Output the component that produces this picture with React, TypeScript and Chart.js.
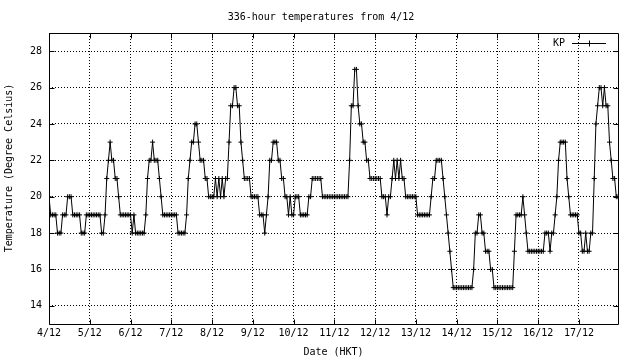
import { useEffect, useRef } from "react";
import { Chart, registerables } from "chart.js";

Chart.register(...registerables);

const TITLE = "336-hour temperatures from 4/12";
const X_TITLE = "Date (HKT)";
const Y_TITLE = "Temperature (Degree Celsius)";
const SERIES_LABEL = "KP";

const DAY_LABELS = ["4/12", "5/12", "6/12", "7/12", "8/12", "9/12", "10/12", "11/12", "12/12", "13/12", "14/12", "15/12", "16/12", "17/12"];
const Y_TICKS = [14, 16, 18, 20, 22, 24, 26, 28];
const Y_MIN = 13;
const Y_MAX = 29;
const HOURS_PER_DAY = 24;

// hourly temperatures, one array per day
const day04 = [20, 19, 19, 19, 19, 18, 18, 18, 19, 19, 19, 20, 20, 20, 19, 19, 19, 19, 19, 18, 18, 18, 19, 19];
const day05 = [19, 19, 19, 19, 19, 19, 19, 18, 18, 19, 21, 22, 23, 22, 22, 21, 21, 20, 19, 19, 19, 19, 19, 19];
const day06 = [19, 18, 19, 18, 18, 18, 18, 18, 18, 19, 21, 22, 22, 23, 22, 22, 22, 21, 20, 19, 19, 19, 19, 19];
const day07 = [19, 19, 19, 19, 18, 18, 18, 18, 18, 19, 21, 22, 23, 23, 24, 24, 23, 22, 22, 22, 21, 21, 20, 20];
const day08 = [20, 20, 21, 20, 21, 20, 21, 20, 21, 21, 23, 25, 25, 26, 26, 25, 25, 23, 22, 21, 21, 21, 21, 20];
const day09 = [20, 20, 20, 20, 19, 19, 19, 18, 19, 20, 22, 22, 23, 23, 23, 22, 22, 21, 21, 20, 20, 19, 20, 19];
const day10 = [19, 20, 20, 20, 19, 19, 19, 19, 19, 20, 20, 21, 21, 21, 21, 21, 21, 20, 20, 20, 20, 20, 20, 20];
const day11 = [20, 20, 20, 20, 20, 20, 20, 20, 20, 22, 25, 25, 27, 27, 25, 24, 24, 23, 23, 22, 22, 21, 21, 21];
const day12 = [21, 21, 21, 21, 20, 20, 20, 19, 20, 20, 21, 22, 21, 22, 21, 22, 21, 21, 20, 20, 20, 20, 20, 20];
const day13 = [20, 19, 19, 19, 19, 19, 19, 19, 19, 20, 21, 21, 22, 22, 22, 22, 21, 20, 19, 18, 17, 16, 15, 15];
const day14 = [15, 15, 15, 15, 15, 15, 15, 15, 15, 15, 16, 18, 18, 19, 19, 18, 18, 17, 17, 17, 16, 16, 15, 15];
const day15 = [15, 15, 15, 15, 15, 15, 15, 15, 15, 15, 17, 19, 19, 19, 19, 20, 19, 18, 17, 17, 17, 17, 17, 17];
const day16 = [17, 17, 17, 17, 18, 18, 18, 17, 18, 18, 19, 20, 22, 23, 23, 23, 23, 21, 20, 19, 19, 19, 19, 19];
const day17 = [18, 18, 17, 17, 18, 17, 17, 18, 18, 21, 24, 25, 26, 26, 25, 26, 25, 25, 23, 22, 21, 21, 20, 20];

const temperatures = [
  ...day04, ...day05, ...day06, ...day07, ...day08, ...day09, ...day10,
  ...day11, ...day12, ...day13, ...day14, ...day15, ...day16, ...day17,
];

const FONT = "'DejaVu Sans Mono', monospace";

const decorPlugin = {
  id: "gnuplotDecor",
  afterDraw(chart: any) {
    const { ctx, chartArea: a, scales } = chart;
    const L = Math.round(a.left) + 0.5;
    const R = Math.round(a.right) + 0.5;
    const T = Math.round(a.top) + 0.5;
    const B = Math.round(a.bottom) + 0.5;
    ctx.save();
    ctx.strokeStyle = "#000";
    ctx.lineWidth = 1;
    ctx.setLineDash([]);
    ctx.beginPath();
    // frame
    ctx.rect(L, T, R - L, B - T);
    // tick marks (inward, mirrored)
    for (const t of scales.y.ticks) {
      const py = Math.round(scales.y.getPixelForValue(t.value)) + 0.5;
      ctx.moveTo(L, py); ctx.lineTo(L + 5, py);
      ctx.moveTo(R, py); ctx.lineTo(R - 5, py);
    }
    for (const t of scales.x.ticks) {
      const px = Math.round(scales.x.getPixelForValue(t.value)) + 0.5;
      ctx.moveTo(px, B); ctx.lineTo(px, B - 5);
      ctx.moveTo(px, T); ctx.lineTo(px, T + 5);
    }
    ctx.stroke();

    // texts
    ctx.fillStyle = "#000";
    ctx.font = `10px ${FONT}`;
    ctx.textAlign = "center";
    ctx.textBaseline = "middle";
    ctx.fillText(TITLE, 321, 17);
    ctx.fillText(X_TITLE, (a.left + a.right) / 2, 352);
    ctx.save();
    ctx.translate(9, 168);
    ctx.rotate(-Math.PI / 2);
    ctx.fillText(Y_TITLE, 0, 0);
    ctx.restore();

    // legend
    ctx.textAlign = "right";
    ctx.fillText(SERIES_LABEL, 565, 43);
    ctx.beginPath();
    ctx.moveTo(572, 43.5); ctx.lineTo(606, 43.5);
    ctx.moveTo(589.5, 40.5); ctx.lineTo(589.5, 46.5);
    ctx.stroke();
    ctx.restore();
  },
};

export default function App() {
  const canvasRef = useRef<HTMLCanvasElement | null>(null);

  useEffect(() => {
    const canvas = canvasRef.current;
    if (!canvas) return;
    const chart = new Chart(canvas, {
      type: "line",
      data: {
        datasets: [
          {
            label: SERIES_LABEL,
            data: temperatures.map((t, i) => ({ x: i, y: t })),
            borderColor: "#000",
            backgroundColor: "#000",
            borderWidth: 1,
            pointStyle: "cross",
            pointRadius: 2.5,
            pointBorderWidth: 1,
            pointBorderColor: "#000",
            pointHoverRadius: 2.5,
            tension: 0,
            fill: false,
          },
        ],
      },
      options: {
        responsive: false,
        animation: false,
        events: [],
        layout: { padding: { top: 33, right: 22, left: 0, bottom: 0 } },
        plugins: {
          legend: { display: false },
          title: { display: false },
          tooltip: { enabled: false },
        },
        scales: {
          x: {
            type: "linear",
            min: 0,
            max: temperatures.length - 1,
            afterBuildTicks: (scale: any) => {
              scale.ticks = DAY_LABELS.map((_, i) => ({ value: i * HOURS_PER_DAY }));
            },
            afterFit: (scale: any) => {
              scale.height = 36;
            },
            ticks: {
              autoSkip: false,
              maxRotation: 0,
              padding: 3,
              color: "#000",
              font: { family: FONT, size: 10 },
              callback: (v: any) => DAY_LABELS[Math.round(Number(v) / HOURS_PER_DAY)] ?? "",
            },
            grid: { color: "#000", lineWidth: 1, drawTicks: false },
            border: { display: false, dash: [1, 2] },
          },
          y: {
            type: "linear",
            min: Y_MIN,
            max: Y_MAX,
            afterBuildTicks: (scale: any) => {
              scale.ticks = Y_TICKS.map((v) => ({ value: v }));
            },
            afterFit: (scale: any) => {
              scale.width = 49;
            },
            ticks: {
              padding: 7,
              color: "#000",
              font: { family: FONT, size: 10 },
              callback: (v: any) => String(v),
            },
            grid: { color: "#000", lineWidth: 1, drawTicks: false },
            border: { display: false, dash: [1, 2] },
          },
        },
      },
      plugins: [decorPlugin],
    });
    return () => chart.destroy();
  }, []);

  return (
    <div style={{ position: "absolute", left: 0, top: 0, width: 640, height: 360, background: "#fff" }}>
      <canvas ref={canvasRef} width={640} height={360} style={{ width: 640, height: 360, display: "block" }} />
    </div>
  );
}
